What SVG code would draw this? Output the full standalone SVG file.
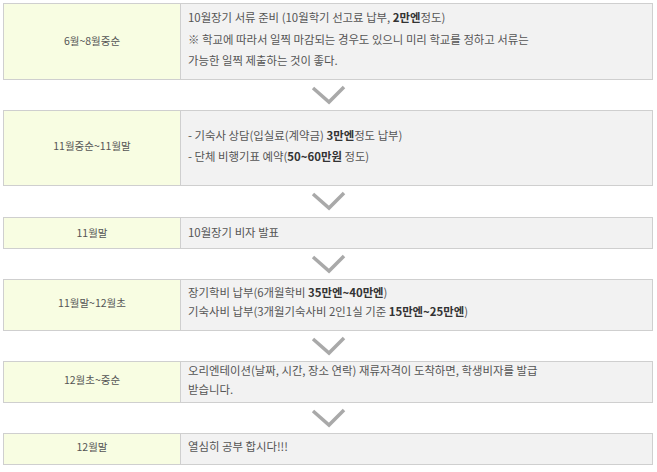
<svg xmlns="http://www.w3.org/2000/svg" width="657" height="472" viewBox="0 0 657 472">
<style>
.lab{fill:#f8fde2;stroke:#cfcfcf;stroke-width:1}
.cnt{fill:#f2f2f2;stroke:#cfcfcf;stroke-width:1}
text{font-family:"Noto Sans CJK KR","Noto Sans",sans-serif;font-size:11.4px;fill:#555}
.c{text-anchor:middle;font-size:10.5px}
.b{font-weight:bold;fill:#333}
.arr{fill:none;stroke:#a9a9a9;stroke-width:3.5;stroke-linejoin:miter}
</style>
<rect width="657" height="472" fill="#fff"/>
<g id="step1">
<rect class="lab" x="3.5" y="3.5" width="177" height="76"/>
<rect class="cnt" x="180.5" y="3.5" width="472" height="76"/>
<text class="c" x="92" y="45">6월~8월중순</text>
<text x="188" y="22">10월장기 서류 준비 (10월학기 선고료 납부, <tspan class="b">2만엔</tspan>정도)</text>
<text x="188" y="44">※ 학교에 따라서 일찍 마감되는 경우도 있으니 미리 학교를 정하고 서류는</text>
<text x="188" y="65">가능한 일찍 제출하는 것이 좋다.</text>
</g>
<g id="step2">
<rect class="lab" x="3.5" y="110.5" width="177" height="75"/>
<rect class="cnt" x="180.5" y="110.5" width="472" height="75"/>
<text class="c" x="92" y="150">11월중순~11월말</text>
<text x="188" y="140">- 기숙사 상담(입실료(계약금) <tspan class="b">3만엔</tspan>정도 납부)</text>
<text x="188" y="161">- 단체 비행기표 예약(<tspan class="b">50~60만원</tspan> 정도)</text>
</g>
<g id="step3">
<rect class="lab" x="3.5" y="217.5" width="177" height="31"/>
<rect class="cnt" x="180.5" y="217.5" width="472" height="31"/>
<text class="c" x="92" y="237">11월말</text>
<text x="188" y="237">10월장기 비자 발표</text>
</g>
<g id="step4">
<rect class="lab" x="3.5" y="279.5" width="177" height="51"/>
<rect class="cnt" x="180.5" y="279.5" width="472" height="51"/>
<text class="c" x="92" y="307">11월말~12월초</text>
<text x="188" y="297">장기학비 납부(6개월학비 <tspan class="b">35만엔~40만엔</tspan>)</text>
<text x="188" y="316">기숙사비 납부(3개월기숙사비 2인1실 기준 <tspan class="b">15만엔~25만엔</tspan>)</text>
</g>
<g id="step5">
<rect class="lab" x="3.5" y="361.5" width="177" height="41"/>
<rect class="cnt" x="180.5" y="361.5" width="472" height="41"/>
<text class="c" x="92" y="384">12월초~중순</text>
<text x="188" y="375">오리엔테이션(날짜, 시간, 장소 연락) 재류자격이 도착하면, 학생비자를 발급</text>
<text x="188" y="394">받습니다.</text>
</g>
<g id="step6">
<rect class="lab" x="3.5" y="433.5" width="177" height="31"/>
<rect class="cnt" x="180.5" y="433.5" width="472" height="31"/>
<text class="c" x="92" y="451">12월말</text>
<text x="188" y="451">열심히 공부 합시다!!!</text>
</g>
<g id="connectors">
<polyline class="arr" points="313,88 329,102 344,87"/>
<polyline class="arr" points="313,194 329,208 344,193"/>
<polyline class="arr" points="313,257 329,271 344,256"/>
<polyline class="arr" points="313,339 329,353 344,338"/>
<polyline class="arr" points="313,411 329,425 344,410"/>
</g>
</svg>
